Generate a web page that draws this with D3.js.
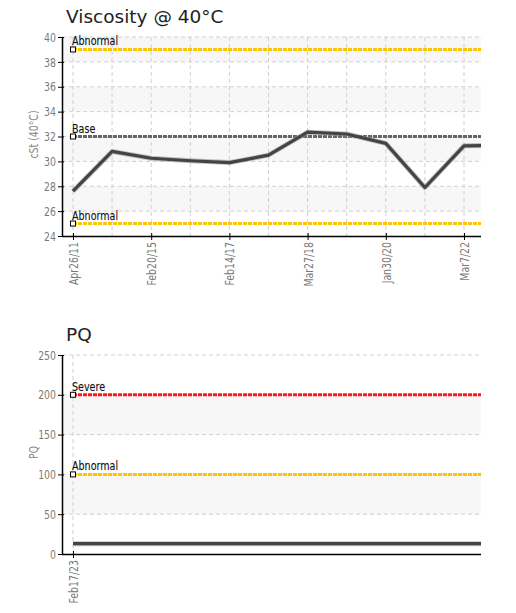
<!DOCTYPE html>
<html lang="en">
<head>
    <meta charset="UTF-8">
    <title>Viscosity / PQ</title>
    <script src="https://d3js.org/d3.v7.min.js"></script>
    <style>
        body { margin: 0; background: #fff; }
        .tick text { fill: #7a7a7a; font-family: "DejaVu Sans Condensed", "DejaVu Sans", sans-serif; font-size: 13px; }
        .title { font-family: "DejaVu Sans", sans-serif; font-size: 18.5px; fill: #222; }
        .ylabel { font-family: "DejaVu Sans Condensed", "DejaVu Sans", sans-serif; font-size: 13px; fill: #888; }
        .limitLabel { font-family: "DejaVu Sans Condensed", "DejaVu Sans", sans-serif; font-size: 12.5px; fill: #111; }
        .grid line { stroke: #d0d0d0; stroke-dasharray: 4,3; }
    </style>
</head>
<body>
<script>
    const width = 516;
    const height = 613;

    // viscosity chart
    const viscDates  = ["Apr26/11", "", "Feb20/15", "", "Feb14/17", "", "Mar27/18", "", "Jan30/20", "", "Mar7/22", ""];
    const viscValues = [27.6, 30.8, 30.25, 30.05, 29.9, 30.5, 32.35, 32.2, 31.45, 27.9, 31.25, 31.3];
    const viscLimits = [
        {label: "Abnormal", value: 39, color: "#ffc400"},
        {label: "Base",     value: 32, color: "#666666"},
        {label: "Abnormal", value: 25, color: "#ffc400"}
    ];
    const viscTicks = [24, 26, 28, 30, 32, 34, 36, 38, 40];

    // PQ chart
    const pqDates  = ["Feb17/23"];
    const pqValues = [13];
    const pqLimits = [
        {label: "Severe",   value: 200, color: "#ff1a1a"},
        {label: "Abnormal", value: 100, color: "#ffc400"}
    ];
    const pqTicks = [0, 50, 100, 150, 200, 250];

    const svg = d3.select("body").append("svg")
            .attr("width", width).attr("height", height);

    const left = 62, right = 481;
    const narrow = 0.8; // the original uses a condensed face

    drawChart({
        title: "Viscosity @ 40°C", ylabel: "cSt (40°C)", top: 37, bottom: 236,
        dates: viscDates, values: viscValues, limits: viscLimits, ticks: viscTicks,
        lastIndex: 10, id: "visc"
    });
    drawChart({
        title: "PQ", ylabel: "PQ", top: 355, bottom: 554,
        dates: pqDates, values: pqValues, limits: pqLimits, ticks: pqTicks,
        lastIndex: 0, id: "pq"
    });

    function drawChart(c) {
        const g = svg.append("g");
        const y = d3.scaleLinear()
                .domain(d3.extent(c.ticks))
                .range([c.bottom, c.top]);
        // categorical positions, 39 px per sample like the original
        const x = d3.scaleLinear()
                .domain([0, 10])
                .range([73, 464]);

        g.append("clipPath").attr("id", "clip-" + c.id)
                .append("rect")
                .attr("x", left).attr("y", c.top)
                .attr("width", right - left).attr("height", c.bottom - c.top);

        // alternating bands
        const bands = d3.pairs(c.ticks).filter((d, i) => i % 2 == 1);
        g.selectAll("rect.band")
                .data(bands).enter()
                .append("rect")
                .attr("class", "band")
                .attr("x", left)
                .attr("width", right - left)
                .attr("y", d => y(d[1]))
                .attr("height", d => y(d[0]) - y(d[1]))
                .style("fill", "#f7f7f7");

        // grid
        const grid = g.append("g").attr("class", "grid");
        grid.selectAll("line.h")
                .data(c.ticks.slice(1)).enter()
                .append("line")
                .attr("x1", left).attr("x2", right)
                .attr("y1", d => y(d)).attr("y2", d => y(d));
        const idx = d3.range(c.lastIndex + 1);
        grid.selectAll("line.v")
                .data(idx).enter()
                .append("line")
                .attr("x1", d => x(d)).attr("x2", d => x(d))
                .attr("y1", c.top).attr("y2", c.bottom);

        // limit lines
        g.selectAll("line.limit")
                .data(c.limits).enter()
                .append("line")
                .attr("x1", x(0)).attr("x2", right)
                .attr("y1", d => y(d.value)).attr("y2", d => y(d.value))
                .style("stroke", d => d.color)
                .style("stroke-width", 3)
                .style("stroke-dasharray", "4,1");

        // data line
        let pts = c.values.map((v, i) => [x(i), y(v)]);
        if (pts.length == 1) pts = [pts[0], [right, pts[0][1]]];
        const line = d3.line();
        g.append("path")
                .attr("clip-path", "url(#clip-" + c.id + ")")
                .attr("d", line(pts))
                .style("fill", "none")
                .style("stroke", "#999")
                .style("stroke-width", 5)
                .style("stroke-opacity", 0.6)
                .style("stroke-linejoin", "round");
        g.append("path")
                .attr("clip-path", "url(#clip-" + c.id + ")")
                .attr("d", line(pts))
                .style("fill", "none")
                .style("stroke", "#444")
                .style("stroke-width", 3.2)
                .style("stroke-linejoin", "round");

        // limit markers and labels
        g.selectAll("rect.marker")
                .data(c.limits).enter()
                .append("rect")
                .attr("x", x(0) - 2.5).attr("y", d => y(d.value) - 2.5)
                .attr("width", 5).attr("height", 5)
                .style("fill", "#fff").style("stroke", "#000").style("stroke-width", 1);
        g.selectAll("text.limitLabel")
                .data(c.limits).enter()
                .append("text")
                .attr("class", "limitLabel")
                .attr("transform", d => "translate(" + (x(0) - 1) + "," + (y(d.value) - 4) + ") scale(0.85,1)")
                .style("paint-order", "stroke")
                .style("stroke", "rgba(0,0,0,0.12)")
                .style("stroke-width", 1)
                .text(d => d.label);

        // axes
        const yAxis = d3.axisLeft(y).tickValues(c.ticks).tickSize(4).tickSizeOuter(0).tickPadding(3);
        const ya = g.append("g").attr("transform", "translate(" + left + ",0)").call(yAxis);
        ya.selectAll(".tick line").attr("x2", -4).attr("x1", 2);
        ya.selectAll(".tick text").attr("x", null)
                .attr("transform", "translate(-6,0) scale(0.8,1)");

        const xAxis = d3.axisBottom(x)
                .tickValues(idx.filter(i => c.dates[i] != ""))
                .tickFormat(i => c.dates[i])
                .tickSize(0).tickSizeOuter(0);
        const xa = g.append("g").attr("transform", "translate(0," + c.bottom + ")").call(xAxis);
        xa.select(".domain").attr("d", "M" + left + ",0.5H" + right);
        xa.selectAll(".tick line").attr("y1", -3).attr("y2", 4).style("stroke", "#000");
        xa.selectAll(".tick text")
                .attr("transform", "rotate(-90) translate(-6,0) scale(" + narrow + ",1)")
                .attr("text-anchor", "end")
                .attr("x", 0).attr("y", 0).attr("dy", "0.35em");
        ya.select(".domain").style("stroke", "#000").style("stroke-width", 1.5);
        xa.select(".domain").style("stroke", "#000").style("stroke-width", 1.5);

        // title and y label
        g.append("text").attr("class", "title")
                .attr("x", 66).attr("y", c.top - 14)
                .text(c.title);
        g.append("text").attr("class", "ylabel")
                .attr("transform", "translate(38," + ((c.top + c.bottom) / 2 - 2) + ") rotate(-90) scale(" + narrow + ",1)")
                .attr("text-anchor", "middle")
                .text(c.ylabel);
    }
</script>
</body>
</html>
